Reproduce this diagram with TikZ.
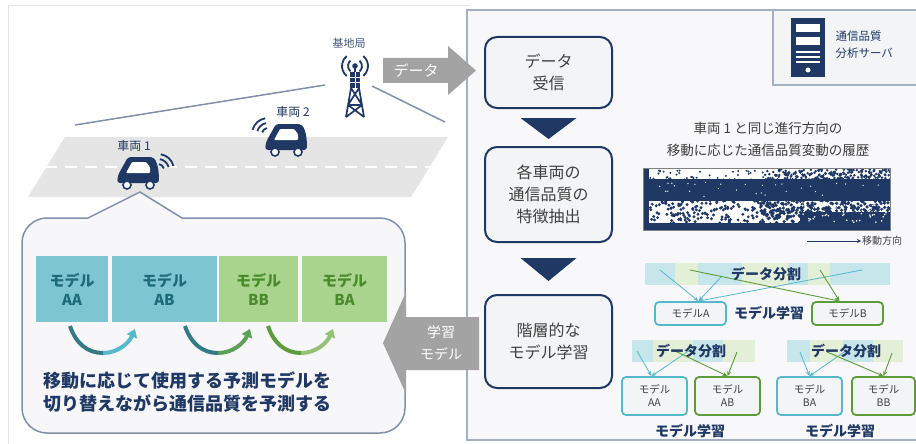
\documentclass[tikz,border=0pt]{standalone}
\usepackage{fontspec}
\setmainfont{Noto Sans CJK JP}
\usetikzlibrary{arrows.meta,calc}

\definecolor{navy}{HTML}{1F3864}
\definecolor{arrowgray}{HTML}{A3A3A3}
\definecolor{panelfill}{HTML}{F8F8FA}
\definecolor{panelline}{HTML}{A3B0C0}
\definecolor{boxfill}{HTML}{F3F4F6}
\definecolor{roadgray}{HTML}{E5E5E5}
\definecolor{tealbox}{HTML}{7DC6D1}
\definecolor{greenbox}{HTML}{A8D48E}
\definecolor{tealtext}{HTML}{1D6B78}
\definecolor{greentext}{HTML}{4B8A2C}
\definecolor{teallight}{HTML}{C6E6EC}
\definecolor{greenlight}{HTML}{E4EFD7}
\definecolor{tealline}{HTML}{55B9C9}
\definecolor{greenline}{HTML}{5E9B3A}
\definecolor{textgray}{HTML}{404040}
\definecolor{skyline}{HTML}{8090A8}

\tikzset{
  flowbox/.style={draw=navy, line width=2pt, rounded corners=12pt, fill=boxfill,
    minimum width=127pt, text=textgray, font=\fontsize{16}{22}\selectfont, align=center},
  modelcell/.style={minimum height=66pt, inner sep=0pt, align=center,
    font=\bfseries\fontsize{15}{19}\selectfont},
  smallbox/.style={rounded corners=4pt, line width=1.8pt, fill=boxfill, text=textgray,
    font=\fontsize{10.5}{13}\selectfont, align=center, inner sep=0pt},
  boldlabel/.style={font=\bfseries\fontsize{14}{16}\selectfont, text=navy},
  tealarrow/.style={draw=tealline, line width=0.8pt, -{Stealth[length=5pt,width=4pt]}},
  greenarrow/.style={draw=greenline, line width=0.9pt, -{Stealth[length=5pt,width=4pt]}},
  wave/.style={navy, line width=1.8pt},
  swing/.style={line width=4pt},
  pics/car/.style={code={
    \fill[navy, rounded corners=3pt] (0,28) -- (1,20) -- (11,2) -- (31,2)
      .. controls (39,2) and (42,12) .. (42,28) -- cycle;
    \fill[white, rounded corners=1pt] (9,18) -- (15,7) -- (29,7) -- (33,12) -- (33,18) -- cycle;
    \draw[navy, fill=white, line width=1.6pt] (10,30) circle (4);
    \draw[navy, fill=white, line width=1.6pt] (33,30) circle (4);
  }}
}

\begin{document}
\begin{tikzpicture}[x=1pt,y=-1pt]
\useasboundingbox (0,0) rectangle (916,444);
\clip (0,0) rectangle (916,444);
\fill[white] (0,0) rectangle (916,444);
\draw[black!10, line width=0.8pt] (8,444) -- (8,5) -- (470,5);

% ---------- server panel ----------
\draw[panelline, line width=1.2pt, fill=panelfill] (467,10) rectangle (930,440);
\draw[panelline, line width=1.2pt, fill=boxfill] (773,10) rectangle (930,85);
\fill[navy] (791,18) rectangle (825,77);
\fill[white] (796,24) rectangle (820,32);
\fill[white] (796,37) rectangle (820,45);
\foreach \yy in {52,57,62} \fill[white] (796,\yy-1) rectangle (820,\yy+1);
\fill[white] (808,70) circle (2.5);
\node[anchor=west, text=navy, align=left, font=\fontsize{11.5}{17}\selectfont] (server) at (832,45) {通信品質\\分析サーバ};

% ---------- road scene ----------
\fill[roadgray] (65,137) -- (448,137) -- (411,197) -- (28,197) -- cycle;
\draw[white, line width=2.5pt, dash pattern=on 12pt off 8pt] (45,167) -- (432,167);

% base station
\coordinate (tw) at (355,66);
\fill[navy] (tw) circle (2.8);
\foreach \r in {7,13} {
  \draw[navy, line width=1.8pt] ($(tw)+(130:\r)$) arc[start angle=130, end angle=230, radius=\r];
  \draw[navy, line width=1.8pt] ($(tw)+(-50:\r)$) arc[start angle=-50, end angle=50, radius=\r];
}
\draw[navy, line width=1.5pt] (355,68) -- (355,73);
\fill[navy] (350,72) rectangle (360,88);
\draw[white, line width=0.8pt] (350,77) -- (360,77) (350,82) -- (360,82) (355,72) -- (355,88);
\draw[navy, line width=1.7pt] (351,88) -- (346,117) (359,88) -- (364,117)
  (351,88) -- (362,105) (359,88) -- (348,105) (348,105) -- (362,105)
  (348,105) -- (364,117) (362,105) -- (346,117);
\node[text=navy!85, font=\fontsize{11}{13}\selectfont] (bslabel) at (349,43) {基地局};
\coordinate (skyL) at (75,125);
\coordinate (skyR) at (445,122);
\coordinate (twL) at (325,85);
\coordinate (twR) at (372,86);
\draw[skyline, line width=1.5pt] (skyL) -- (twL);
\draw[skyline, line width=1.5pt] (twR) -- (skyR);

% vehicles
\pic at (117,155) {car};
\pic at (265,122) {car};
\coordinate (w1) at (158,170);
\foreach \r in {6,11,16}
  \draw[wave] ($(w1)+(-80:\r)$) arc[start angle=-80, end angle=-15, radius=\r];
\coordinate (w2) at (268,134);
\foreach \r in {6,11,16}
  \draw[wave] ($(w2)+(195:\r)$) arc[start angle=195, end angle=260, radius=\r];
\node[text=navy, font=\fontsize{12}{14}\selectfont] (car1) at (134,146) {車両 1};
\node[text=navy, font=\fontsize{12}{14}\selectfont] (car2) at (293,112) {車両 2};

% ---------- callout ----------
\draw[skyline, line width=1.5pt, fill=boxfill!70!white]
  (88,218) -- (140,192) -- (182,218) -- (380,218)
  arc[start angle=-90, end angle=0, radius=25] -- (405,408)
  arc[start angle=0, end angle=90, radius=25] -- (47,433)
  arc[start angle=90, end angle=180, radius=25] -- (22,243)
  arc[start angle=180, end angle=270, radius=25] -- cycle;

\node[modelcell, fill=tealbox, text=tealtext, minimum width=72pt] (mAA) at (72,289) {モデル\\AA};
\node[modelcell, fill=tealbox, text=tealtext, minimum width=105pt] (mAB) at (164.5,289) {モデル\\AB};
\node[modelcell, fill=greenbox, text=greentext, minimum width=79pt] (mBB) at (258.5,289) {モデル\\BB};
\node[modelcell, fill=greenbox, text=greentext, minimum width=85pt] (mBA) at (344.5,289) {モデル\\BA};

% switching arrows
\draw[swing, draw=tealtext!90] (70,326) .. controls (76,344) and (88,353) .. (103,353);
\draw[swing, draw=tealline, -{Triangle[length=8pt,width=11pt]}] (103,353) .. controls (118,353) and (129,343) .. (135,329);
\draw[swing, draw=tealtext!90] (185,326) .. controls (191,344) and (203,353) .. (218,353);
\draw[swing, draw=greenline!80!tealline, -{Triangle[length=8pt,width=11pt]}] (218,353) .. controls (233,353) and (244,343) .. (250,329);
\draw[swing, draw=greenline] (268,326) .. controls (274,344) and (286,353) .. (301,353);
\draw[swing, draw=greenbox!70!greenline, -{Triangle[length=8pt,width=11pt]}] (301,353) .. controls (316,353) and (327,343) .. (333,329);

\node[anchor=west, align=left, text=navy, font=\bfseries\fontsize{18}{23.5}\selectfont] (predict) at (40,392)
  {移動に応じて使用する予測モデルを\\切り替えながら通信品質を予測する};

% ---------- flow ----------
\node[flowbox, minimum height=71pt] (recv) at (548.5,72.5) {データ\\受信};
\node[flowbox, minimum height=95pt] (feat) at (548.5,194.5) {各車両の\\通信品質の\\特徴抽出};
\node[flowbox, minimum height=93pt] (learn) at (548.5,341.5) {階層的な\\モデル学習};
\fill[navy] ($(recv.south)+(-28,9)$) -- ($(recv.south)+(28,9)$) -- ($(recv.south)+(0,30)$) -- cycle;
\fill[navy] ($(feat.south)+(-28,15)$) -- ($(feat.south)+(28,15)$) -- ($(feat.south)+(0,38)$) -- cycle;

% transfer arrows
\fill[arrowgray] (383,58) -- (448,58) -- (448,46) -- (476,70.5) -- (448,95) -- (448,83) -- (383,83) -- cycle;
\node[text=white, font=\fontsize{15}{17}\selectfont] (datalbl) at (416,70.5) {データ};
\fill[arrowgray] (479,317) -- (406,317) -- (406,292) -- (383,343) -- (406,394) -- (406,370) -- (479,370) -- cycle;
\node[text=white, align=center, font=\fontsize{14}{22}\selectfont] (modellbl) at (441,343) {学習\\モデル};

% ---------- history ----------
\node[align=center, text=textgray!95!black, font=\fontsize{13.5}{22}\selectfont] (histtitle) at (768,139)
  {車両 1 と同じ進行方向の\\移動に応じた通信品質変動の履歴};
\begin{scope}
\clip (643,168) rectangle (890,230);
\fill[white] (643,168) rectangle (890,230);
\pgfmathsetseed{17}
\foreach \i in {1,...,45} \fill[navy] ({646+120*rnd},{170+10*rnd}) circle (1.1);
\foreach \i in {1,...,220} \fill[navy] ({765+125*rnd},{169+12*rnd}) circle (1.4);
\fill[navy] (643,179) rectangle (890,201);
\foreach \i in {1,...,200} \fill[navy] ({644+140*rnd},{200+28*rnd}) circle (1.6);
\foreach \i in {1,...,380} \fill[navy] ({760+130*rnd},{200+28*rnd}) circle (1.8);
\fill[navy] (800,212) rectangle (890,230);
\fill[navy] (643,223) rectangle (890,230);
\fill[navy] (643,168) rectangle (649,230);
\foreach \i in {1,...,50} \fill[white] ({800+88*rnd},{205+18*rnd}) circle (0.9);
\foreach \i in {1,...,30} \fill[white] ({650+240*rnd},{182+16*rnd}) circle (0.7);
\end{scope}
\draw[gray, line width=0.8pt] (643,168) rectangle (890,230);
\coordinate (dirA) at (807,241);
\node[anchor=west, text=textgray, font=\fontsize{10}{12}\selectfont, inner sep=1pt] (dirlbl) at (861,241) {移動方向};
\draw[navy, line width=0.8pt, -{Stealth[length=4pt,width=4pt]}] (dirA) -- (dirlbl.west);

% ---------- hierarchical split ----------
% level 1
\fill[teallight] (645,263) rectangle (675,285);
\fill[greenlight] (675,263) rectangle (698,285);
\fill[teallight] (698,263) rectangle (742,285);
\fill[greenlight] (742,263) rectangle (788,285);
\fill[teallight] (788,263) rectangle (808,285);
\fill[greenlight] (808,263) rectangle (830,285);
\fill[teallight] (830,263) rectangle (890,285);
\node[smallbox, draw=tealline, minimum width=71pt, minimum height=23pt] (mA) at (690.5,313.5) {モデルA};
\node[smallbox, draw=greenline, minimum width=71pt, minimum height=23pt] (mB) at (847.5,313.5) {モデルB};
\node[boldlabel] (learn1) at (769,313.5) {モデル学習};
\coordinate (s1a) at (660,270);
\coordinate (s1b) at (722,276);
\coordinate (s1c) at (862,270);
\coordinate (s1d) at (690,270);
\coordinate (s1e) at (820,270);
\draw[tealarrow] (s1a) -- ($(mA.north)+(8,0)$);
\draw[tealarrow] (s1b) -- ($(mA.north)+(8,0)$);
\draw[tealarrow] (s1c) -- ($(mA.north)+(8,0)$);
\draw[greenarrow] (s1d) -- ($(mB.north)+(-8,0)$);
\draw[greenarrow] (s1e) -- ($(mB.north)+(-8,0)$);
\node[boldlabel] (split1) at (766,274) {データ分割};

% level 2, left
\fill[teallight] (632,340) rectangle (653,362);
\fill[greenlight] (653,340) rectangle (693,362);
\fill[teallight] (693,340) rectangle (723,362);
\fill[greenlight] (723,340) rectangle (755,362);
\node[smallbox, draw=tealline, minimum width=65pt, minimum height=38pt] (mAA2) at (654.5,396) {モデル\\AA};
\node[smallbox, draw=greenline, minimum width=65pt, minimum height=38pt] (mAB2) at (727.5,396) {モデル\\AB};
\node[boldlabel] (learn2) at (690,431) {モデル学習};
\coordinate (s2a) at (637,351);
\coordinate (s2b) at (693,348);
\coordinate (s2c) at (673,350);
\coordinate (s2d) at (737,352);
\draw[tealarrow] (s2a) -- ($(mAA2.north)+(-3,0)$);
\draw[tealarrow] (s2b) -- ($(mAA2.north)+(-3,0)$);
\draw[greenarrow] (s2c) -- (mAB2.north);
\draw[greenarrow] (s2d) -- (mAB2.north);
\node[boldlabel] (split2) at (691,351) {データ分割};

% level 2, right
\fill[teallight] (787,340) rectangle (810,362);
\fill[greenlight] (810,340) rectangle (843,362);
\fill[teallight] (843,340) rectangle (873,362);
\fill[greenlight] (873,340) rectangle (903,362);
\node[smallbox, draw=tealline, minimum width=65pt, minimum height=38pt] (mBA2) at (809.5,396) {モデル\\BA};
\node[smallbox, draw=greenline, minimum width=63pt, minimum height=38pt] (mBB2) at (883.5,396) {モデル\\BB};
\node[boldlabel] (learn3) at (840,431) {モデル学習};
\coordinate (s3a) at (800,352);
\coordinate (s3b) at (847,350);
\coordinate (s3c) at (827,352);
\coordinate (s3d) at (892,353);
\draw[tealarrow] (s3a) -- (mBA2.north);
\draw[tealarrow] (s3b) -- (mBA2.north);
\draw[greenarrow] (s3c) -- (mBB2.north);
\draw[greenarrow] (s3d) -- (mBB2.north);
\node[boldlabel] (split3) at (846,351) {データ分割};
\end{tikzpicture}
\end{document}
